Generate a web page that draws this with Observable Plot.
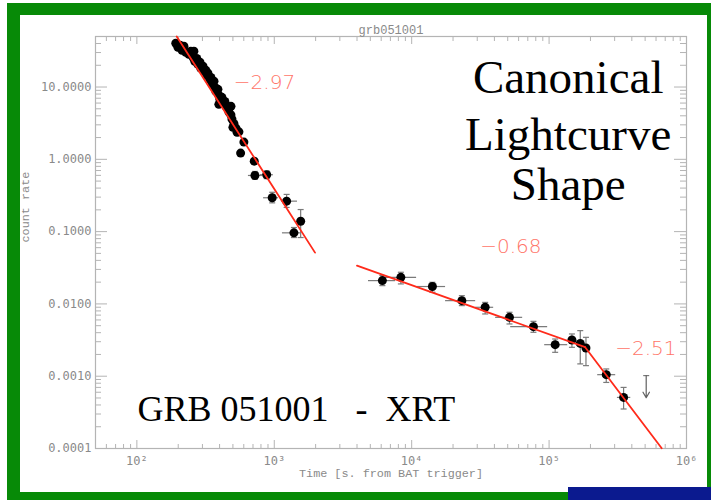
<!DOCTYPE html>
<html>
<head>
<meta charset="utf-8">
<script src="https://cdn.jsdelivr.net/npm/d3@7"></script>
<script src="https://cdn.jsdelivr.net/npm/@observablehq/plot@0.6"></script>
<style>
  html, body { margin: 0; padding: 0; background: #fff; }
  #stage { position: relative; width: 711px; height: 500px; overflow: hidden; background: #fff; }
  #stage svg { position: absolute; left: 0; top: 0; }
  .band { position: absolute; z-index: 2; }
  .green { background: #078a07; }
  .navy { background: #0b1a8f; }
</style>
</head>
<body>
<div id="stage"></div>
<script>
// ---- XRT light curve of GRB 051001 (count rate vs time since BAT trigger) ----

// Dense early sampling during the steep decay (s, counts/s)
const earlyT = [192, 199, 206, 213, 220, 227, 239, 247, 260, 256, 264, 273, 278, 288, 292, 303, 308, 318, 324, 329,
                340, 346, 352, 364, 370, 376, 389, 395, 402, 416, 423, 437, 445, 395, 460, 468, 484, 484, 492, 509,
                526, 553, 500, 536, 601, 569, 715];
const earlyR = [40.3, 35.5, 37.8, 32.2, 36.6, 30.3, 28.4, 31.2, 31.2, 25.8, 22.7, 24.9, 20.6, 22.0, 18.2, 19.4, 16.5, 17.0, 14.5, 15.5,
                12.8, 13.6, 11.2, 12.0, 9.9, 8.7, 9.3, 7.7, 6.8, 7.2, 5.9, 6.3, 5.4, 5.76, 5.1, 4.5, 4.1, 5.41, 3.6, 3.1,
                2.7, 2.4, 2.77, 2.37, 1.73, 1.22, 0.944];

// Binned points with time ranges and 1-sigma rate errors
const binT   = [723, 881, 966, 1230, 1390, 1556, 6120, 8340, 14150, 23180, 34260, 51500, 76940, 110700, 146600, 168600, 185500, 260600, 348500];
const binR   = [0.598, 0.612, 0.294, 0.264, 0.0962, 0.139, 0.0210, 0.0233, 0.0174, 0.0111, 0.00898, 0.00652, 0.00485, 0.00273, 0.00317, 0.00284, 0.00246, 0.00105, 0.000509];
const binTlo = [643, 787, 829, 1119, 1137, null, 4810, 6200, 10940, 17500, 28970, 40470, 52100, 92100, null, null, null, 223900, 311600];
const binThi = [813, 977, 1065, 1463, 1538, null, 7570, 10770, 17500, 28970, 39170, 63680, 96800, 135500, null, null, null, 302800, 389700];
const binRlo = [0.53, 0.54, 0.25, 0.216, 0.0828, 0.0828, 0.0179, 0.0189, 0.0145, 0.00947, 0.00726, 0.00528, 0.00405, 0.00214, 0.00251, 0.00148, 0.00140, 0.00082, 0.000352];
const binRhi = [0.68, 0.69, 0.35, 0.327, 0.114, 0.202, 0.0247, 0.0274, 0.0199, 0.0130, 0.0105, 0.00766, 0.00574, 0.00327, 0.00384, 0.00427, 0.00345, 0.00126, 0.0007];

// Upper limit (time, limit, arrow tip)
const ulT = [509000];
const ulTop = [0.00102];
const ulTip = [0.000504];

// Power-law fit segments: start/end times, decay slopes, normalisation at start
const fitStart = [195, 4000, 183000];
const fitEnd   = [1980, 183000, 660000];
const fitSlope = [-2.97, -0.68, -2.51];
const fitNorm  = [50, 0.0339, null]; // null: continues from the previous segment

// Slope label anchors
const slopeLabelT = [508, 31500, 303000];
const slopeLabelR = [11.7, 0.0622, 0.0024];

// Axis ticks
const xMajor = [1e2, 1e3, 1e4, 1e5, 1e6];
const yMajor = [1e-4, 1e-3, 1e-2, 1e-1, 1, 10];
const xDomain = [50, 1e6];
const yDomain = [1e-4, 50];

// Overlay headings
const headline = ["Canonical", "Lightcurve", "Shape"];
const headlineR = [13.2, 2.14, 0.449];
const headlineT = 137700;
const instrumentText = "GRB 051001\u00a0\u00a0\u00a0-\u00a0\u00a0XRT";
const instrumentT = 101;
const instrumentR = 3.49e-4;
const titleText = "grb051001";
const xLabel = "Time [s. from BAT trigger]";
const yLabel = "count rate";

// ---- derived tables ----
const early = earlyT.map((t, i) => ({t, r: earlyR[i]}));
const bins = binT.map((t, i) => ({t, r: binR[i], tlo: binTlo[i], thi: binThi[i], rlo: binRlo[i], rhi: binRhi[i]}));
const ul = ulT.map((t, i) => ({t, top: ulTop[i], tip: ulTip[i]}));

function minorTicks([lo, hi]) {
  const out = [];
  for (let e = Math.floor(Math.log10(lo)); e <= Math.ceil(Math.log10(hi)); e++)
    for (let m = 2; m <= 9; m++) {
      const v = m * Math.pow(10, e);
      if (v >= lo * 0.999 && v <= hi * 1.001) out.push(v);
    }
  return out;
}
const xMinor = minorTicks(xDomain);
const yMinor = minorTicks(yDomain);

// fit polylines (straight in log-log space)
const fitPts = [];
let prevEnd = null;
fitSlope.forEach((s, i) => {
  const r0 = fitNorm[i] ?? prevEnd;
  const r1 = r0 * Math.pow(fitEnd[i] / fitStart[i], s);
  fitPts.push({seg: i, t: fitStart[i], r: r0}, {seg: i, t: fitEnd[i], r: r1});
  prevEnd = r1;
});
const slopeLabels = fitSlope.map((s, i) => ({t: slopeLabelT[i], r: slopeLabelR[i], text: "\u2212" + Math.abs(s).toFixed(2)}));

// horizontal cap symbol for error bars
const capSymbol = {
  draw(context, size) {
    const h = Math.sqrt(size / Math.PI);
    context.moveTo(-h, 0);
    context.lineTo(h, 0);
  }
};
const caps = bins.flatMap(d => [{t: d.t, v: d.rlo}, {t: d.t, v: d.rhi}]).concat(ul.map(d => ({t: d.t, v: d.top})));

const W = 711, H = 500;
const mL = 95, mR = 25, mT = 36, mB = 52;
const FW = W - mL - mR, FH = H - mT - mB;
const axisGray = "#b4b4b4";
const textGray = "#8a8a8a";
const errGray = "#7a7a7a";
const supers = {2: "\u00b2", 3: "\u00b3", 4: "\u2074", 5: "\u2075", 6: "\u2076"};

const chart = Plot.plot({
  width: W,
  height: H,
  marginLeft: mL,
  marginRight: mR,
  marginTop: mT,
  marginBottom: mB,
  style: {background: "white", fontFamily: "DejaVu Sans Mono", fontSize: "12px"},
  x: {type: "log", domain: xDomain},
  y: {type: "log", domain: yDomain},
  marks: [
    // tick marks pointing inward on all four sides
    Plot.ruleX(xMajor, {insetTop: FH - 8, stroke: axisGray}),
    Plot.ruleX(xMajor, {insetBottom: FH - 8, stroke: axisGray}),
    Plot.ruleX(xMinor, {insetTop: FH - 4, stroke: axisGray}),
    Plot.ruleX(xMinor, {insetBottom: FH - 5, stroke: axisGray}),
    Plot.ruleY(yMajor, {insetRight: FW - 12, stroke: axisGray}),
    Plot.ruleY(yMajor, {insetLeft: FW - 12, stroke: axisGray}),
    Plot.ruleY(yMinor, {insetRight: FW - 6, stroke: axisGray}),
    Plot.ruleY(yMinor, {insetLeft: FW - 6, stroke: axisGray}),
    Plot.frame({stroke: axisGray, strokeWidth: 1.2}),
    Plot.axisX(xMajor, {tickSize: 0, tickPadding: 8, label: null, fill: textGray,
      tickFormat: d => "10" + supers[Math.round(Math.log10(d))]}),
    Plot.axisY(yMajor, {tickSize: 0, tickPadding: 4, label: null, fill: textGray,
      tickFormat: d3.format(".4f")}),
    Plot.text([xLabel], {frameAnchor: "bottom", dy: 28, fill: textGray, fontFamily: "Liberation Mono", fontSize: 11.8}),
    Plot.text([yLabel], {frameAnchor: "left", dx: -70, rotate: -90, fill: textGray, fontFamily: "Liberation Mono", fontSize: 11.8}),
    Plot.text([titleText], {frameAnchor: "top", dy: -11, fill: textGray, fontFamily: "Liberation Mono", fontSize: 12, letterSpacing: "1.8px"}),

    // error bars
    Plot.link(bins.filter(d => d.tlo != null), {x1: "tlo", x2: "thi", y1: "r", y2: "r", stroke: errGray, strokeWidth: 1.2}),
    Plot.link(bins, {x1: "t", x2: "t", y1: "rlo", y2: "rhi", stroke: errGray, strokeWidth: 1.2}),
    Plot.dot(caps, {x: "t", y: "v", r: 3, symbol: capSymbol, stroke: errGray, fill: "none", strokeWidth: 1.2}),

    // upper limit
    Plot.arrow(ul, {x1: "t", x2: "t", y1: "top", y2: "tip", stroke: "#606060", strokeWidth: 1.2, headLength: 8}),

    // data points
    Plot.dot(early, {x: "t", y: "r", r: 4.5, fill: "black"}),
    Plot.dot(bins, {x: "t", y: "r", r: 4.5, fill: "black"}),

    // broken power-law fit
    Plot.line(fitPts, {x: "t", y: "r", z: "seg", stroke: "#ff2a1a", strokeWidth: 1.8}),
    Plot.text(slopeLabels, {x: "t", y: "r", text: "text", textAnchor: "start", fill: "#ff7468",
      fontFamily: "DejaVu Sans", fontSize: 20, fontWeight: 300}),

    // headings
    Plot.text(headline, {x: () => headlineT, y: (d, i) => headlineR[i], text: d => d, fill: "black",
      fontFamily: "Liberation Serif", fontSize: 47}),
    Plot.text([instrumentText], {x: () => instrumentT, y: () => instrumentR, text: d => d, textAnchor: "start",
      fill: "black", fontFamily: "Liberation Serif", fontSize: 36})
  ]
});

const stage = document.getElementById("stage");
stage.appendChild(chart);
const bands = [
  ["green", 7, 3, 704, 12],
  ["green", 7, 3, 13, 497],
  ["green", 707, 3, 4, 497],
  ["green", 7, 492, 704, 8],
  ["navy", 568, 487, 143, 13]
];
for (const [cls, x, y, w, h] of bands) {
  const div = document.createElement("div");
  div.className = "band " + cls;
  Object.assign(div.style, {left: x + "px", top: y + "px", width: w + "px", height: h + "px"});
  stage.appendChild(div);
}
</script>
</body>
</html>
